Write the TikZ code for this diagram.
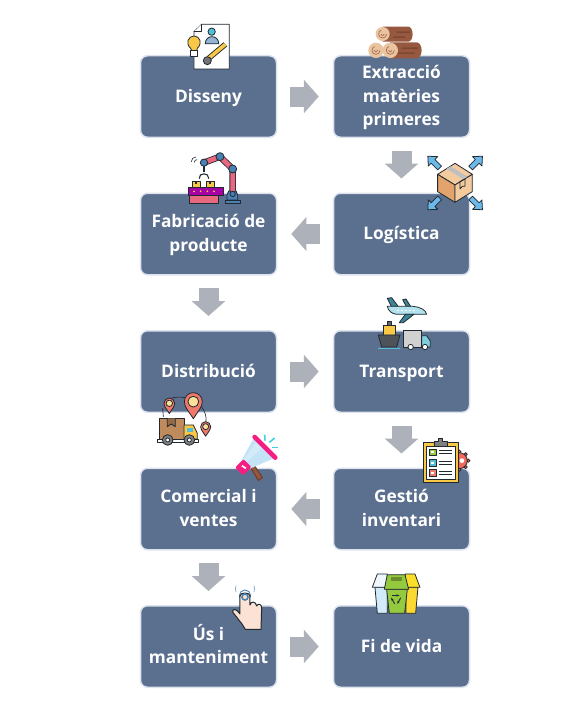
\documentclass[tikz,border=0pt]{standalone}
\usepackage{fontspec}
\setmainfont{Open Sans}
\usetikzlibrary{positioning,arrows.meta,calc}
\definecolor{slate}{RGB}{91,111,143}
\definecolor{rim}{RGB}{221,227,238}
\definecolor{flowgrey}{RGB}{173,177,185}
\definecolor{ink}{RGB}{32,40,48}
\definecolor{kraft}{RGB}{226,164,108}
\definecolor{kraftlt}{RGB}{243,203,158}
\definecolor{bark}{RGB}{150,88,62}
\definecolor{barkdk}{RGB}{110,62,44}
\definecolor{wood}{RGB}{234,196,160}
\definecolor{sky}{RGB}{108,184,232}
\definecolor{teal}{RGB}{84,190,214}
\definecolor{coral}{RGB}{240,122,106}
\definecolor{robotpink}{RGB}{232,104,128}
\definecolor{robotblue}{RGB}{74,128,178}
\definecolor{sun}{RGB}{249,200,70}
\definecolor{hotpink}{RGB}{245,30,130}
\definecolor{skin}{RGB}{252,226,212}
\definecolor{leaf}{RGB}{150,202,62}
\newcommand{\stepstrut}{\rule[-6pt]{0pt}{23pt}}
\tikzset{
  stepbox/.style={draw=rim,line width=1.5pt,fill=slate,rounded corners=7pt,
    minimum width=136pt,minimum height=81.5pt,align=center,text=white,
    font=\fontsize{17.3}{23.5}\selectfont\bfseries},
  flow/.style={draw=flowgrey,line width=20pt,shorten <=12.5pt,shorten >=14pt,
    -{Triangle[length=15pt,width=33pt]}},
  line/.style={draw=ink,line width=.8pt,line join=round,line cap=round},
  topzoom/.style={shift={(130,15)},x=.3333pt,y=-.3333pt},
  midzoom/.style={shift={(130,285)},x=.3333pt,y=-.3333pt},
  lowzoom/.style={shift={(130,500)},x=.3333pt,y=-.3333pt}
}
\begin{document}
\begin{tikzpicture}[x=1pt,y=-1pt]
\useasboundingbox (0,0) rectangle (581,717);
% steps
\node[stepbox] (disseny) at (208.5,96.5) {\stepstrut Disseny\stepstrut};
\node[stepbox] (extraccio) at (401.5,96.5) {\stepstrut Extracció\\matèries\\primeres\stepstrut};
\node[stepbox] (fabricacio) at (208.5,234) {\stepstrut Fabricació de\\producte\stepstrut};
\node[stepbox] (logistica) at (401.5,234) {\stepstrut Logística\stepstrut};
\node[stepbox] (distribucio) at (208.5,371.5) {\stepstrut Distribució\stepstrut};
\node[stepbox] (transport) at (401.5,371.5) {\stepstrut Transport\stepstrut};
\node[stepbox] (comercial) at (208.5,509) {\stepstrut Comercial i\\ventes\stepstrut};
\node[stepbox] (gestio) at (401.5,509) {\stepstrut Gestió\\inventari\stepstrut};
\node[stepbox] (us) at (208.5,646.5) {\stepstrut Ús i\\manteniment\stepstrut};
\node[stepbox] (fi) at (401.5,646.5) {\stepstrut Fi de vida\stepstrut};
% arrows
\draw[flow] (disseny) -- (extraccio);
\draw[flow] (extraccio) -- (logistica);
\draw[flow] (logistica) -- (fabricacio);
\draw[flow] (fabricacio) -- (distribucio);
\draw[flow] (distribucio) -- (transport);
\draw[flow] (transport) -- (gestio);
\draw[flow] (gestio) -- (comercial);
\draw[flow] (comercial) -- (us);
\draw[flow] (us) -- (fi);
% design sheet
\begin{scope}[topzoom]
\draw[line,fill=white] (215,28) -- (298,28) -- (298,162) -- (192,162) -- (192,50) -- cycle;
\draw[line,fill=white] (192,50) -- (215,50) -- (215,28);
\draw[line,fill=sun] (190,118) -- (182,100) .. controls (165,85) and (175,63) .. (192,63) .. controls (210,63) and (218,85) .. (202,100) -- (198,118) -- cycle;
\draw[line,fill=white] (180,106) rectangle (202,124);
\draw[line,fill=teal] (245,50) circle (11);
\draw[line,fill=robotblue!60] (226,86) .. controls (226,58) and (266,58) .. (266,86) -- cycle;
\draw[ink,line width=5.4pt] (236,130) -- (286,88);
\draw[sun,line width=3.6pt] (236,130) -- (286,88);
\draw[line,fill=black!55] (232,137) circle (12);
\end{scope}
% logs
\begin{scope}[topzoom]
\fill[bark] (758,35) -- (835,35) arc (-90:90:13 and 22.5) -- (758,80) -- cycle;
\fill[barkdk] (800,50) rectangle (840,53) (790,65) rectangle (825,68);
\fill[bark] (780,82) -- (860,82) arc (-90:90:15 and 24) -- (780,130) -- cycle;
\fill[barkdk] (815,98) rectangle (865,101) (805,113) rectangle (855,116);
\foreach \cx/\cy/\rr in {758/57/21,738/106/23,781/106/23}{
  \fill[wood] (\cx,\cy) circle (\rr);
  \draw[bark!80!wood,line width=.7pt] (\cx+12,\cy) arc (0:250:12);
  \draw[bark!80!wood,line width=.7pt] (\cx+5,\cy) arc (0:180:5);
}
\end{scope}
% robot arm
\begin{scope}[topzoom]
\draw[line,fill=robotpink] (178,540) rectangle (266,565);
\draw[line,fill=violet!70!magenta] (175,518) rectangle (280,540);
\foreach \bx in {186,229}{
  \draw[line,fill=sun] (\bx,498) rectangle (\bx+24,518);
  \fill[ink] (\bx+9,498) rectangle (\bx+15,508);
}
\foreach \bx in {192,212,232,252}{\fill[sun] (\bx,529) circle (3);}
\draw[line,fill=robotblue] (285,565) rectangle (330,555);
\draw[line,fill=robotblue] (291,555) -- (291,540) arc (180:360:16) -- (323,555) -- cycle;
\draw[ink,line width=6.4pt,line cap=round,line join=round] (308,525) -- (308,462) -- (270,425) -- (222,443);
\draw[robotpink,line width=4.8pt,line cap=round,line join=round] (308,525) -- (308,462) -- (270,425) -- (222,443);
\draw[line,line width=1.2pt] (222,443) -- (222,470);
\draw[line,line width=1.1pt] (208,490) .. controls (205,472) and (238,472) .. (236,490);
\foreach \jx/\jy/\rr in {308/462/12,270/425/12,222/443/11,308/537/8}{
  \draw[line,fill=robotblue] (\jx,\jy) circle (\rr);
}
\draw[line,line width=.6pt] (184,440) arc (180:270:14);
\draw[line,line width=.6pt] (193,442) arc (180:270:8);
\end{scope}
% box and four arrows
\begin{scope}[topzoom]
\foreach \ax/\ay/\ang in {912/442/135,1039/442/45,912/566/225,1039/566/315}{
  \begin{scope}[shift={(\ax,\ay)},rotate=\ang]
  \draw[line,fill=sky] (-24,-8) -- (4,-8) -- (4,-20) -- (26,0) -- (4,20) -- (4,8) -- (-24,8) -- cycle;
  \end{scope}
}
\draw[line,fill=kraftlt] (975,445) -- (1027,478) -- (975,510) -- (923,478) -- cycle;
\draw[line,fill=kraft] (923,478) -- (975,510) -- (975,562) -- (923,530) -- cycle;
\draw[line,fill=kraftlt] (1027,478) -- (975,510) -- (975,562) -- (1027,530) -- cycle;
\fill[black!25] (950,461) -- (962,454) -- (1012,485) -- (1000,493) -- cycle;
\draw[line] (990,500) -- (1005,492) -- (1005,514) -- (997,514) -- (990,522) -- cycle;
\end{scope}
% plane, ship and truck
\begin{scope}[midzoom]
\draw[line,fill=teal!70!black] (772,40) -- (785,38) -- (805,65) -- (785,66) -- cycle;
\draw[line,fill=teal!70!black] (818,44) -- (828,42) -- (843,66) -- (830,66) -- cycle;
\draw[line,fill=teal!45!white] (772,64) -- (850,64) .. controls (870,66) and (888,75) .. (890,88) -- (800,88) .. controls (785,86) and (775,78) .. cycle;
\draw[line,fill=teal!70!black] (826,88) -- (852,88) -- (820,113) -- (808,113) -- cycle;
\draw[white,line width=1.4pt,dash pattern=on 2pt off 2pt] (800,76) -- (860,76);
\draw[line,fill=ink!70] (772,110) rectangle (784,122);
\draw[line,fill=sun] (760,122) -- (795,122) -- (795,150) -- (760,150) -- cycle;
\draw[line,fill=ink!80] (745,150) -- (810,150) -- (800,186) -- (755,186) -- cycle;
\draw[teal,line width=1pt] (745,192) -- (810,192);
\draw[line,fill=black!18] (820,137) rectangle (875,186);
\draw[line,fill=teal!75] (875,152) -- (890,152) -- (901,168) -- (901,186) -- (875,186) -- cycle;
\draw[line,fill=white] (842,186) circle (8);
\draw[line,fill=white] (885,186) circle (8);
\end{scope}
% delivery truck and pins
\begin{scope}[midzoom]
\draw[line,line width=.6pt] (105,350) .. controls (120,335) and (150,335) .. (165,338);
\draw[line,line width=.6pt] (100,395) -- (98,370);
\draw[line,line width=.6pt] (215,365) .. controls (225,380) and (230,395) .. (228,410);
\foreach \px/\py/\rr in {190/350/27,118/355/16,227/425/15}{
  \draw[line,fill=coral] (\px,\py+1.9*\rr) .. controls (\px-.5*\rr,\py+1.1*\rr) and (\px-\rr,\py+.6*\rr) .. (\px-\rr,\py) arc (180:360:\rr) .. controls (\px+\rr,\py+.6*\rr) and (\px+.5*\rr,\py+1.1*\rr) .. cycle;
  \draw[line,fill=sun!55!white] (\px,\py) circle (.6*\rr);
}
\draw[line,fill=kraft!85!black] (88,400) rectangle (162,462);
\draw[line,fill=kraft!65!black] (112,400) -- (112,425) -- (124,417) -- (136,425) -- (136,400);
\draw[line,fill=sun] (162,420) -- (190,420) -- (202,445) -- (202,462) -- (162,462) -- cycle;
\fill[teal] (172,428) rectangle (190,442);
\draw[line,fill=white] (82,462) rectangle (205,472);
\foreach \wx in {113,178}{
  \draw[line,fill=black!50] (\wx,465) circle (16);
  \draw[line,fill=white] (\wx,465) circle (6);
}
\end{scope}
% megaphone
\begin{scope}[midzoom]
\draw[line width=1.1pt,draw=barkdk,fill=bark] (362,548) -- (372,540) -- (397,578) -- (385,586) -- cycle;
\fill[sky!40!white] (372,458) -- (436,518) -- (358,552) -- (335,525) -- cycle;
\fill[white!70!sky] (378,472) -- (396,490) -- (348,532) -- (342,522) -- cycle;
\fill[hotpink,rounded corners=2pt,rotate around={45:(340,547)}] (322,530) rectangle (358,564);
\fill[white] (337,540) -- (349,548) -- (346,552) -- (334,544) -- cycle;
\draw[hotpink,line width=4.6pt,line cap=round] (374,456) -- (436,518);
\draw[teal!70!cyan,line width=1.6pt] (404,449) -- (405,467);
\draw[teal!70!cyan,line width=1.6pt] (418,472) -- (434,459);
\draw[teal!70!cyan,line width=1.6pt] (426,488) -- (443,488);
\end{scope}
% clipboard and gear
\begin{scope}[midzoom]
\foreach \ga in {0,45,...,315}{
  \draw[line,fill=coral!85!red] ($(988,527)+(\ga:27)$) circle (5);
}
\draw[line,fill=coral!85!red] (988,527) circle (24);
\fill[white] (996,527) circle (7);
\draw[line,fill=sun] (880,472) rectangle (985,592);
\draw[line,fill=white] (890,484) rectangle (975,584);
\draw[line,fill=black!50] (912,484) -- (912,470) -- (925,470) -- (925,460) -- (938,460) -- (938,470) -- (951,470) -- (951,484) -- cycle;
\foreach \iy/\ic in {492/leaf,524/teal,554/coral}{
  \draw[line,fill=\ic] (898,\iy) rectangle (918,\iy+19);
  \fill[white] (904,\iy+6) rectangle (912,\iy+13);
  \draw[ink,line width=.9pt] (926,\iy+5) -- (965,\iy+5) (926,\iy+14) -- (965,\iy+14);
}
\end{scope}
% touching hand
\begin{scope}[lowzoom]
\draw[robotblue,line width=.9pt] (345,287) circle (17);
\draw[robotblue!70,line width=.7pt] (318,276) arc (160:200:28);
\draw[robotblue!70,line width=.7pt] (372,276) arc (20:-20:28);
\draw[line,line width=1pt,fill=skin] (346,388) -- (336,372) -- (308,336) .. controls (308,325) and (318,325) .. (330,342) -- (330,288) .. controls (330,276) and (360,276) .. (360,288) -- (360,315) .. controls (362,303) and (378,303) .. (380,318) .. controls (384,308) and (396,312) .. (395,325) -- (393,388) -- cycle;
\draw[robotblue,line width=1.6pt] (345,291) circle (9);
\end{scope}
% bins
\begin{scope}[lowzoom]
\draw[line,fill=sky!30!white] (735,262) -- (742,340) -- (772,340) -- (772,262) -- cycle;
\draw[line,fill=white!90!sky] (727,262) -- (742,222) -- (772,222) -- (772,262) -- cycle;
\draw[line,fill=sun!70!yellow] (828,262) -- (828,340) -- (857,340) -- (864,262) -- cycle;
\draw[line,fill=sun!60!yellow] (825,262) -- (826,222) -- (855,222) -- (870,262) -- cycle;
\draw[line,fill=leaf] (770,268) -- (778,340) -- (824,340) -- (832,268) -- cycle;
\draw[line,fill=leaf] (763,268) -- (772,224) -- (825,224) -- (836,268) -- cycle;
\fill[leaf!70!black] (782,232) rectangle (815,244);
\foreach \ra in {90,210,330}{
  \draw[ink,line width=.9pt,-{Stealth[length=3pt]}] ($(798,297)+(\ra+15:15)$) -- ($(798,297)+(\ra+105:15)$);
}
\end{scope}
\end{tikzpicture}
\end{document}
